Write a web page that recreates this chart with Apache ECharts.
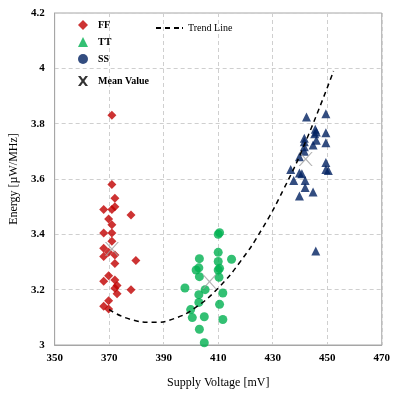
<!DOCTYPE html>
<html>
<head>
<meta charset="utf-8">
<script src="https://cdn.jsdelivr.net/npm/echarts@6/dist/echarts.min.js"></script>
<style>
  html, body { margin: 0; padding: 0; background: #fff; }
  #chart { width: 393px; height: 394px; }
</style>
</head>
<body>
<div id="chart"></div>
<script>
// values
var ffPoints = [
  [371, 3.83], [371, 3.58], [372.1, 3.53], [368, 3.49], [371, 3.49], [372.1, 3.50],
  [378, 3.47], [369.8, 3.455], [371, 3.435], [368, 3.405], [371, 3.405], [371, 3.375],
  [368, 3.35], [369.8, 3.335], [372.1, 3.325], [368, 3.32], [379.8, 3.305], [372.1, 3.295],
  [369.8, 3.25], [368, 3.23], [372.1, 3.235], [372.9, 3.215], [372.1, 3.205], [378, 3.20],
  [372.9, 3.185], [369.8, 3.16], [368, 3.14], [369.8, 3.13]
];
var ttPoints = [
  [410, 3.40], [410.5, 3.406], [410, 3.335], [414.9, 3.31], [403.1, 3.312], [410, 3.302],
  [401.9, 3.271], [402.9, 3.279], [410, 3.271], [410.5, 3.277], [403.1, 3.247], [410.3, 3.245],
  [397.8, 3.206], [405.2, 3.20], [402.9, 3.182], [411.7, 3.188], [402.9, 3.154], [410.5, 3.147],
  [399.9, 3.128], [400.5, 3.099], [404.9, 3.102], [411.7, 3.092], [403.1, 3.057], [404.9, 3.008]
];
var ssPoints = [
  [442.4, 3.824], [449.5, 3.836], [445.6, 3.78], [446, 3.77], [445.4, 3.764], [446, 3.74],
  [449.5, 3.767], [449.5, 3.731], [441.6, 3.747], [441.6, 3.735], [441.6, 3.717], [441.6, 3.70],
  [444.8, 3.723], [439.8, 3.68], [449.5, 3.66], [449.5, 3.634], [450.4, 3.631], [436.6, 3.634],
  [439.8, 3.622], [440.7, 3.619], [437.7, 3.595], [441.9, 3.595], [441.9, 3.569], [444.8, 3.553],
  [439.8, 3.539], [445.8, 3.34]
];
var meanPoints = [[371, 3.347], [406.8, 3.229], [442.1, 3.672]];
var trendPoints = [
  [370, 3.128], [378, 3.092], [386, 3.082], [394, 3.096], [402, 3.138], [410, 3.206],
  [418, 3.30], [426, 3.418], [434, 3.563], [442, 3.733], [452.3, 3.99]
];

var serif = '"Liberation Serif", "DejaVu Serif", serif';
var xPath = 'path://M0,0L1,0L5,4.4L9,0L10,0L5.6,5L10,10L9,10L5,5.6L1,10L0,10L4.4,5Z';
var xBold = 'path://M0,0L2.6,0L5,3.3L7.4,0L10,0L6.4,5L10,10L7.4,10L5,6.7L2.6,10L0,10L3.6,5Z';
var dashIcon = 'path://M0,0L5,0L5,2L0,2ZM9,0L14,0L14,2L9,2ZM18,0L23,0L23,2L18,2ZM26,0L27,0L27,2L26,2Z';
var legendText = { fontFamily: serif, fontWeight: 'bold', fontSize: 10, color: '#000', padding: [0, 0, 0, 5] };

var chart = echarts.init(document.getElementById('chart'));

var option = {
  animation: false,
  backgroundColor: '#fff',
  grid: {
    left: 48, right: 7, top: 13, bottom: 44,
    show: true, borderColor: '#a6a6a6', borderWidth: 1
  },
  legend: [{
    orient: 'vertical',
    left: 73, top: 15,
    itemWidth: 10, itemHeight: 10, itemGap: 7,
    textStyle: legendText,
    data: [
      { name: 'FF', icon: 'diamond' },
      { name: 'TT', icon: 'triangle' },
      { name: 'SS', icon: 'circle' }
    ]
  }, {
    left: 73, top: 71,
    itemWidth: 10, itemHeight: 11,
    textStyle: legendText,
    data: [{ name: 'Mean Value', icon: xBold, itemStyle: { color: '#000' } }]
  }, {
    left: 151, top: 18,
    itemWidth: 27, itemHeight: 2, itemGap: 0,
    textStyle: { fontFamily: serif, fontSize: 10, color: '#000' },
    data: [{ name: 'Trend Line', icon: dashIcon, itemStyle: { color: '#000' } }]
  }],
  xAxis: {
    type: 'value',
    min: 350, max: 470, interval: 20,
    name: 'Supply Voltage [mV]',
    nameLocation: 'middle', nameGap: 32,
    nameTextStyle: { fontFamily: serif, fontSize: 12, color: '#000' },
    axisLine: { show: true, lineStyle: { color: '#a6a6a6' } },
    axisTick: { show: false },
    axisLabel: { fontFamily: serif, fontWeight: 'bold', fontSize: 11, color: '#000', margin: 8 },
    splitLine: { show: true, lineStyle: { color: '#cfcfcf', type: [4, 3] } }
  },
  yAxis: {
    type: 'value',
    min: 3, max: 4.2, interval: 0.2,
    name: 'Energy [µW/MHz]',
    nameLocation: 'middle', nameGap: 30,
    nameTextStyle: { fontFamily: serif, fontSize: 12, color: '#000' },
    axisLine: { show: true, lineStyle: { color: '#a6a6a6' } },
    axisTick: { show: false },
    axisLabel: {
      fontFamily: serif, fontWeight: 'bold', fontSize: 11, color: '#000', margin: 10,
      formatter: function (v) { return String(Math.round(v * 10) / 10); }
    },
    splitLine: { show: true, lineStyle: { color: '#cfcfcf', type: [4, 3] } }
  },
  series: [{
    name: 'FF', type: 'scatter', symbol: 'diamond', symbolSize: 9,
    itemStyle: { color: '#c00000' }, data: ffPoints
  }, {
    name: 'TT', type: 'scatter', symbol: 'circle', symbolSize: 9,
    itemStyle: { color: '#00b050' }, data: ttPoints
  }, {
    name: 'SS', type: 'scatter', symbol: 'triangle', symbolSize: 9,
    itemStyle: { color: '#002060' }, data: ssPoints
  }, {
    name: 'Mean Value', type: 'scatter', symbol: xPath, symbolSize: 14,
    itemStyle: { color: '#a0a0a0' }, data: meanPoints, z: 3
  }, {
    name: 'Trend Line', type: 'line', smooth: true, symbol: 'none',
    itemStyle: { color: '#000' },
    lineStyle: { color: '#000', type: [5, 4], width: 1.5 },
    data: trendPoints, z: 4
  }]
};

chart.setOption(option);
</script>
</body>
</html>
